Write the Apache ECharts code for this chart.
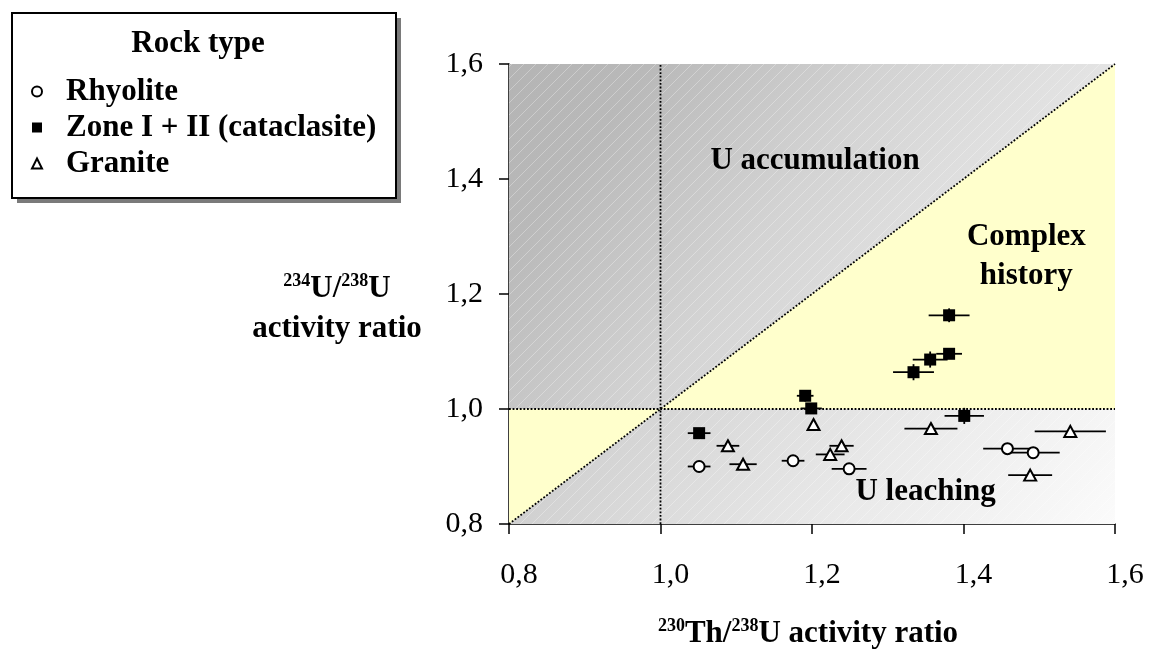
<!DOCTYPE html>
<html><head><meta charset="utf-8">
<script src="https://cdn.jsdelivr.net/npm/echarts@6/dist/echarts.min.js"></script>
<style>html,body{margin:0;padding:0;background:#fff}#c{width:1151px;height:653px}</style>
</head><body><div id="c"></div>
<script>
const FONT = '"Liberation Serif", "Times New Roman", Times, serif';

// ---- data ----
const seriesNames = ['Rhyolite', 'Zone I + II (cataclasite)', 'Granite'];
const xTickLabels = ['0,8', '1,0', '1,2', '1,4', '1,6'];
const yTickLabels = ['0,8', '1,0', '1,2', '1,4', '1,6'];

const rhyoliteX    = [1.051, 1.175, 1.249, 1.458, 1.492];
const rhyoliteY    = [0.900, 0.910, 0.896, 0.931, 0.924];
const rhyoliteXErr = [0.015, 0.015, 0.023, 0.032, 0.035];
const rhyoliteYErr = [0, 0, 0, 0, 0];

const zoneX    = [1.051, 1.191, 1.199, 1.334, 1.356, 1.381, 1.381, 1.401];
const zoneY    = [0.958, 1.023, 1.001, 1.064, 1.086, 1.096, 1.163, 0.988];
const zoneXErr = [0.015, 0.011, 0.014, 0.027, 0.023, 0.017, 0.027, 0.026];
const zoneYErr = [0.005, 0.010, 0.006, 0.014, 0.014, 0.008, 0.012, 0.014];

const graniteX    = [1.089, 1.109, 1.202, 1.224, 1.239, 1.357, 1.541, 1.488];
const graniteY    = [0.936, 0.904, 0.973, 0.921, 0.936, 0.966, 0.961, 0.885];
const graniteXErr = [0.015, 0.018, 0, 0.019, 0.016, 0.035, 0.047, 0.029];
const graniteYErr = [0, 0, 0, 0, 0, 0, 0, 0];

// regions (data coordinates)
const plotRegion = [[0.8, 0.8], [1.6, 0.8], [1.6, 1.6], [0.8, 1.6]];
const yellowRegions = [
  [[1.0, 1.0], [1.6, 1.0], [1.6, 1.6]],
  [[0.8, 0.8], [0.8, 1.0], [1.0, 1.0]]
];
const refLines = [
  [[0.8, 0.8], [1.6, 1.6]],
  [[1.0, 0.8], [1.0, 1.6]],
  [[0.8, 1.0], [1.6, 1.0]]
];
const noteTexts = ['U accumulation', 'Complex\nhistory', 'U leaching'];
const notePos = [[1.204, 1.432], [1.483, 1.265], [1.350, 0.856]];

// ---- helpers ----
function pts(xs, ys) { return xs.map((x, i) => [x, ys[i]]); }
function errRows(xs, ys, ex, ey) { return xs.map((x, i) => [x, ys[i], ex[i], ey[i]]); }

const hatch = document.createElement('canvas');
hatch.width = 12; hatch.height = 12;
(function () {
  const g = hatch.getContext('2d');
  g.strokeStyle = 'rgba(255,255,255,0.3)';
  g.lineWidth = 1;
  g.beginPath();
  g.moveTo(0, 12); g.lineTo(12, 0);
  g.moveTo(-1, 1); g.lineTo(1, -1);
  g.moveTo(11, 13); g.lineTo(13, 11);
  g.stroke();
})();

const chart = echarts.init(document.getElementById('c'), null, { renderer: 'canvas' });

const bgGradient = new echarts.graphic.LinearGradient(0, 0, 1, 1, [
  { offset: 0, color: '#b4b4b4' },
  { offset: 0.15, color: '#b9b9b9' },
  { offset: 0.4, color: '#d3d3d3' },
  { offset: 0.7, color: '#e9e9e9' },
  { offset: 1, color: '#fbfbfb' }
]);

const errData = [].concat(
  errRows(rhyoliteX, rhyoliteY, rhyoliteXErr, rhyoliteYErr),
  errRows(zoneX, zoneY, zoneXErr, zoneYErr),
  errRows(graniteX, graniteY, graniteXErr, graniteYErr)
);

const supStyle = { fontSize: 18, fontWeight: 'bold', fontFamily: FONT, color: '#000', padding: [0, 0, 16, 0] };
const bigStyle = { fontSize: 31, fontWeight: 'bold', fontFamily: FONT, color: '#000' };

const option = {
  animation: false,
  backgroundColor: '#fff',
  grid: { left: 509, top: 64, width: 606, height: 460, containLabel: false, outerBoundsMode: 'none', show: false },
  xAxis: {
    type: 'value', min: 0.8, max: 1.6, interval: 0.2,
    axisLine: { show: true, onZero: false, lineStyle: { color: '#000', width: 1.5 } },
    axisTick: { show: true, inside: false, length: 10, lineStyle: { color: '#000', width: 1.5 } },
    axisLabel: { show: true, margin: 36, padding: [0, 0, 0, 20], fontFamily: FONT, fontSize: 30, color: '#000',
      formatter: (v, i) => xTickLabels[i] },
    splitLine: { show: false }
  },
  yAxis: {
    type: 'value', min: 0.8, max: 1.6, interval: 0.2,
    axisLine: { show: true, onZero: false, lineStyle: { color: '#000', width: 1.5 } },
    axisTick: { show: true, inside: false, length: 10, lineStyle: { color: '#000', width: 1.5 } },
    axisLabel: { show: true, margin: 26, fontFamily: FONT, fontSize: 30, color: '#000',
      formatter: (v, i) => yTickLabels[i] },
    splitLine: { show: false }
  },
  legend: {
    orient: 'vertical', left: 31, top: 76, padding: 0,
    itemWidth: 10, itemHeight: 10, itemGap: 5,
    selectedMode: false,
    textStyle: { fontFamily: FONT, fontSize: 31, fontWeight: 'bold', color: '#000', lineHeight: 31, padding: [0, 0, 0, 19] },
    data: seriesNames.slice()
  },
  graphic: [
    { type: 'rect', x: 17, y: 18, shape: { width: 384, height: 185 }, style: { fill: '#7a7a7a' }, z: 0 },
    { type: 'rect', x: 12, y: 13, shape: { width: 384, height: 185 }, style: { fill: '#fff', stroke: '#000', lineWidth: 2 }, z: 1 },
    { type: 'text', x: 198, y: 44, z: 5,
      style: { text: 'Rock type', fontSize: 31, fontWeight: 'bold', fontFamily: FONT, fill: '#000', align: 'center', verticalAlign: 'middle' } },
    { type: 'text', x: 337, y: 309, z: 5,
      style: { text: '{sup|234}{b|U/}{sup|238}{b|U}\n{b|activity ratio}', align: 'center', verticalAlign: 'middle',
        lineHeight: 40, rich: { sup: supStyle, b: bigStyle } } },
    { type: 'text', x: 808, y: 634, z: 5,
      style: { text: '{sup|230}{b|Th/}{sup|238}{b|U activity ratio}', align: 'center', verticalAlign: 'middle',
        rich: { sup: supStyle, b: bigStyle } } }
  ],
  series: [
    {
      type: 'custom', name: 'bg', silent: true, z: 1, clip: false,
      coordinateSystem: 'cartesian2d',
      data: [[0]],
      renderItem: (params, api) => {
        const full = plotRegion.map(p => api.coord(p));
        const children = [
          { type: 'polygon', shape: { points: full }, style: { fill: bgGradient } },
          { type: 'polygon', shape: { points: full }, style: { fill: { image: hatch, repeat: 'repeat' } } }
        ];
        yellowRegions.forEach(reg => {
          children.push({ type: 'polygon', shape: { points: reg.map(p => api.coord(p)) }, style: { fill: '#ffffcc' } });
        });
        refLines.forEach(l => {
          const a = api.coord(l[0]), b = api.coord(l[1]);
          children.push({ type: 'line', shape: { x1: a[0], y1: a[1], x2: b[0], y2: b[1] },
            style: { stroke: '#000', lineWidth: 1.8, lineDash: [1.8, 1.8] } });
        });
        return { type: 'group', children };
      }
    },
    {
      type: 'custom', name: 'errors', silent: true, z: 3,
      coordinateSystem: 'cartesian2d',
      encode: { x: 0, y: 1 },
      data: errData,
      renderItem: (params, api) => {
        const x = api.value(0), y = api.value(1), ex = api.value(2), ey = api.value(3);
        const children = [];
        if (ex > 0) {
          const l = api.coord([x - ex, y]), r = api.coord([x + ex, y]);
          children.push({ type: 'line', shape: { x1: l[0], y1: l[1], x2: r[0], y2: r[1] }, style: { stroke: '#000', lineWidth: 1.8 } });
        }
        if (ey > 0) {
          const t = api.coord([x, y + ey]), b = api.coord([x, y - ey]);
          children.push({ type: 'line', shape: { x1: t[0], y1: t[1], x2: b[0], y2: b[1] }, style: { stroke: '#000', lineWidth: 1.8 } });
        }
        return { type: 'group', children };
      }
    },
    {
      type: 'scatter', name: seriesNames[0], z: 4, symbol: 'circle', symbolSize: 11,
      itemStyle: { color: '#fff', borderColor: '#000', borderWidth: 2, opacity: 1 },
      data: pts(rhyoliteX, rhyoliteY)
    },
    {
      type: 'scatter', name: seriesNames[1], z: 4, symbol: 'rect', symbolSize: 12,
      itemStyle: { color: '#000', borderColor: '#000', borderWidth: 0, opacity: 1 },
      data: pts(zoneX, zoneY)
    },
    {
      type: 'scatter', name: seriesNames[2], z: 4, symbol: 'triangle', symbolSize: [12, 11],
      itemStyle: { color: '#fff', borderColor: '#000', borderWidth: 2, opacity: 1 },
      data: pts(graniteX, graniteY)
    },
    {
      type: 'scatter', name: 'notes', z: 5, silent: true, symbolSize: 0,
      itemStyle: { opacity: 1 },
      data: notePos.map((p, i) => ({ value: p, name: noteTexts[i] })),
      label: { show: true, position: 'inside', formatter: p => noteTexts[p.dataIndex],
        fontFamily: FONT, fontSize: 31, fontWeight: 'bold', color: '#000', opacity: 1, lineHeight: 39, align: 'center', verticalAlign: 'middle' }
    }
  ]
};
chart.setOption(option);
</script>
</body></html>
